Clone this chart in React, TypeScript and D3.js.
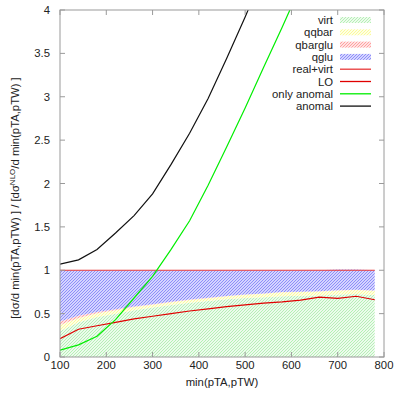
import React from "react";
import * as d3 from "d3";

const xs = [100, 140, 180, 220, 260, 300, 340, 380, 420, 460, 500, 540, 580, 620, 660, 700, 740, 780];
const virt = [0.30, 0.40, 0.46, 0.50, 0.54, 0.57, 0.60, 0.625, 0.645, 0.665, 0.68, 0.69, 0.70, 0.705, 0.71, 0.72, 0.725, 0.715];
const qqbar = [0.07, 0.05, 0.045, 0.04, 0.035, 0.033, 0.032, 0.032, 0.033, 0.035, 0.037, 0.04, 0.045, 0.045, 0.045, 0.047, 0.048, 0.048];
const qbarglu = [0.04, 0.025, 0.015, 0.01, 0.008, 0.006, 0.005, 0.005, 0.004, 0.004, 0.004, 0.003, 0.003, 0.003, 0.003, 0.003, 0.003, 0.003];
const qglu = [0.59, 0.525, 0.48, 0.45, 0.417, 0.391, 0.363, 0.338, 0.318, 0.296, 0.279, 0.267, 0.252, 0.247, 0.242, 0.24, 0.232, 0.234];
const realVirt = [1, 1, 1, 1, 1, 1, 1, 1, 1, 1, 1, 1, 1, 1, 1, 1, 1, 1];
const lo = [0.21, 0.32, 0.36, 0.40, 0.44, 0.47, 0.50, 0.53, 0.555, 0.58, 0.60, 0.62, 0.635, 0.655, 0.69, 0.675, 0.70, 0.66];
const onlyAnomal = [0.08, 0.14, 0.24, 0.43, 0.68, 0.93, 1.24, 1.57, 1.98, 2.42, 2.87, 3.34, 3.8, 4.28];
const anomal = [1.07, 1.12, 1.24, 1.43, 1.63, 1.88, 2.22, 2.58, 2.98, 3.44, 3.92, 4.42];

const xTicks = [100, 200, 300, 400, 500, 600, 700, 800];
const yTicks = [0, 0.5, 1, 1.5, 2, 2.5, 3, 3.5, 4];
const yTickLabels = ["0", "0.5", "1", "1.5", "2", "2.5", "3", "3.5", "4"];

const areaKeys = ["virt", "qqbar", "qbarglu", "qglu"];
const areaBg: Record<string, string> = {
  virt: "#ecfbec",
  qqbar: "#ffffe4",
  qbarglu: "#ffe2e2",
  qglu: "#d4d4ff",
};
const areaLine: Record<string, string> = {
  virt: "#b6efb6",
  qqbar: "#fafa9c",
  qbarglu: "#ffa0a0",
  qglu: "#8e8ef8",
};

const lineSeries = [
  { name: "real+virt", values: realVirt, color: "#e83838" },
  { name: "LO", values: lo, color: "#e00000" },
  { name: "only anomal", values: onlyAnomal, color: "#00ee00" },
  { name: "anomal", values: anomal, color: "#111111" },
];

const L = 60, R = 384, T = 10, B = 357;
const FONT = "'Liberation Sans', Arial, sans-serif";

export default function App() {
  const x = d3.scaleLinear().domain([100, 800]).range([L, R]);
  const y = d3.scaleLinear().domain([0, 4]).range([B, T]);

  const table = xs.map((xv, i) => ({
    x: xv,
    virt: virt[i],
    qqbar: qqbar[i],
    qbarglu: qbarglu[i],
    qglu: qglu[i],
  }));
  const stacked = d3.stack<any>().keys(areaKeys)(table);
  const area = d3
    .area<any>()
    .x((d) => x(d.data.x))
    .y0((d) => y(d[0]))
    .y1((d) => y(d[1]));

  const line = (vals: number[]) =>
    d3.line<number>().x((_, i) => x(xs[i])).y((v) => y(v))(vals) || "";

  const legendItems = [
    ...areaKeys.map((k) => ({ name: k, kind: "area", color: "" })),
    ...lineSeries.map((s) => ({ name: s.name, kind: "line", color: s.color })),
  ];

  return (
    <svg width={397} height={395} style={{ position: "absolute", left: 0, top: 0, background: "#fff" }}>
      <defs>
        {areaKeys.map((k) => (
          <pattern key={k} id={"pat-" + k} width={3} height={3} patternUnits="userSpaceOnUse">
            <rect width={3} height={3} fill={areaBg[k]} />
            <path d="M-1,1 L1,-1 M0,3 L3,0 M2,4 L4,2" stroke={areaLine[k]} strokeWidth={1} />
          </pattern>
        ))}
        <clipPath id="plotclip">
          <rect x={L} y={T} width={R - L} height={B - T} />
        </clipPath>
      </defs>
      <rect x={0} y={0} width={397} height={395} fill="#fff" />
      <g clipPath="url(#plotclip)">
        {stacked.map((s) => (
          <path key={s.key} d={area(s) || ""} fill={`url(#pat-${s.key})`} />
        ))}
        {lineSeries.map((s) => (
          <path key={s.name} d={line(s.values)} fill="none" stroke={s.color} strokeWidth={1.2} />
        ))}
      </g>
      <rect x={L} y={T} width={R - L} height={B - T} fill="none" stroke="#9a9a9a" strokeWidth={1} />
      {xTicks.map((t) => (
        <g key={"xt" + t}>
          <line x1={x(t)} x2={x(t)} y1={B} y2={B - 5} stroke="#9a9a9a" />
          <line x1={x(t)} x2={x(t)} y1={T} y2={T + 5} stroke="#9a9a9a" />
          <text x={x(t)} y={369} textAnchor="middle" fontFamily={FONT} fontSize={11.3} fill="#222">
            {t}
          </text>
        </g>
      ))}
      {yTicks.map((t, i) => (
        <g key={"yt" + t}>
          <line x1={L} x2={L + 5} y1={y(t)} y2={y(t)} stroke="#9a9a9a" />
          <line x1={R} x2={R - 5} y1={y(t)} y2={y(t)} stroke="#9a9a9a" />
          <text x={50} y={y(t) + 4} textAnchor="end" fontFamily={FONT} fontSize={11.3} fill="#222">
            {yTickLabels[i]}
          </text>
        </g>
      ))}
      <text x={222} y={386} textAnchor="middle" fontFamily={FONT} fontSize={11.3} fill="#222">
        min(pTA,pTW)
      </text>
      <text
        transform="translate(19,198) rotate(-90)"
        textAnchor="middle"
        fontFamily={FONT}
        fontSize={11.3}
        fill="#222"
      >
        [dσ/d min(pTA,pTW) ] / [dσ
        <tspan dy={-4} fontSize={8}>NLO</tspan>
        <tspan dy={4}>/d min(pTA,pTW) ]</tspan>
      </text>
      {legendItems.map((it, i) => {
        const ly = 20 + i * 12.3;
        return (
          <g key={it.name}>
            <text x={333} y={ly + 4} textAnchor="end" fontFamily={FONT} fontSize={11.3} fill="#222">
              {it.name}
            </text>
            {it.kind === "area" ? (
              <rect x={340} y={ly - 3} width={31} height={6} fill={`url(#pat-${it.name})`} />
            ) : (
              <line x1={340} x2={371} y1={ly} y2={ly} stroke={it.color} strokeWidth={1.3} />
            )}
          </g>
        );
      })}
    </svg>
  );
}
